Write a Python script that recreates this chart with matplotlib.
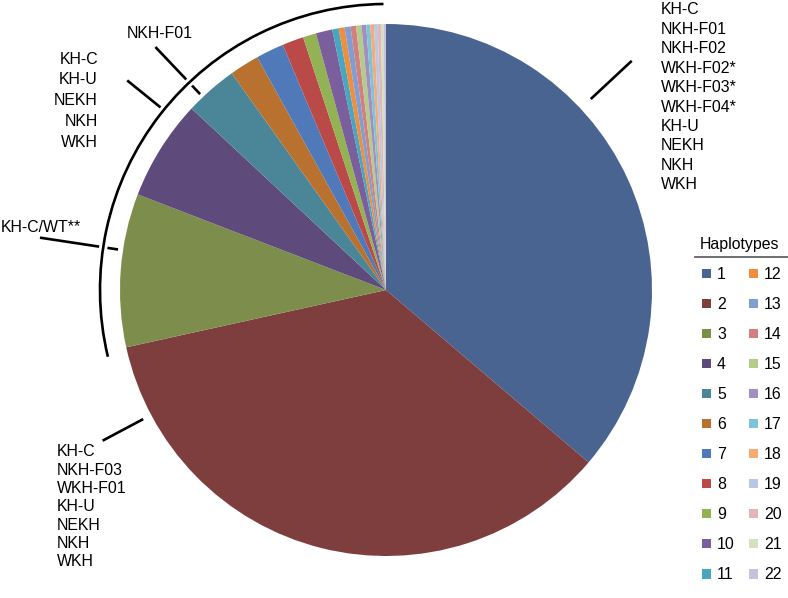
import numpy as np
import matplotlib
matplotlib.use("Agg")
import matplotlib.pyplot as plt
import matplotlib.patheffects as pe
from matplotlib.patches import Arc

plt.rcParams['font.family'] = ['Liberation Sans', 'DejaVu Sans']

# haplotype shares (percent of samples)
haplotypes = [str(i) for i in range(1, 23)]
shares = [36.2, 35.3, 9.3, 6.1, 3.2, 1.8, 1.7, 1.3, 0.8, 1.0,
          0.39, 0.36, 0.36, 0.33, 0.33, 0.28, 0.25, 0.22, 0.22, 0.19, 0.17, 0.14]
colors = ['#4a6491', '#7e3e3e', '#7d8d4b', '#5e4b7c', '#4b8598', '#b8712f',
          '#4f79b8', '#b94a48', '#93b254', '#7a5f9c', '#48a6bf', '#f08e3f',
          '#7f9fd3', '#d27f7d', '#b4cc8a', '#a08fc0', '#7ec4d8', '#f8aa72',
          '#b7c7e4', '#e3b5b4', '#d4e0c2', '#c9c0dc']

# population groups sharing each labelled haplotype
grp_h1 = ['KH-C', 'NKH-F01', 'NKH-F02', 'WKH-F02*', 'WKH-F03*',
          'WKH-F04*', 'KH-U', 'NEKH', 'NKH', 'WKH']
grp_h2 = ['KH-C', 'NKH-F03', 'WKH-F01', 'KH-U', 'NEKH', 'NKH', 'WKH']
grp_rare = ['KH-C', 'KH-U', 'NEKH', 'NKH', 'WKH']

W, H = 788, 598
fig = plt.figure(figsize=(W / 100, H / 100), dpi=100)
ax = fig.add_axes([0, 0, 1, 1])

cx, cy, r = 386, H - 290, 266


def py(y):
    return H - y


wedges, _ = ax.pie(shares, colors=colors, startangle=90, counterclock=False,
                   center=(cx, cy), radius=r, wedgeprops=dict(linewidth=0),
                   frame=True)
ax.set_xlim(0, W)
ax.set_ylim(0, H)
ax.set_aspect('equal')
ax.axis('off')


def tick(angle, r0, r1):
    # angle clockwise from 12 o'clock
    a = np.deg2rad(90 - angle)
    ax.plot([cx + r0 * np.cos(a), cx + r1 * np.cos(a)],
            [cy + r0 * np.sin(a), cy + r1 * np.sin(a)],
            color='black', lw=1.9, solid_capstyle='butt', zorder=3)


tick(47, 280, 336)
tick(242, 275, 321)
tick(278.6, 271, 350)
tick(316.5, 270, 335)
tick(309, 287, 333)

arc = Arc((cx, cy), 2 * 286, 2 * 286, theta1=90.5, theta2=193.5,
          color='black', lw=1.9, zorder=4)
arc.set_path_effects([pe.Stroke(linewidth=6, foreground='white'), pe.Normal()])
ax.add_patch(arc)

fs = 11.4
for i, s in enumerate(grp_h1):
    ax.text(661, py(10 + i * 19.4), s, fontsize=fs, ha='left', va='center')
for i, s in enumerate(grp_h2):
    ax.text(57, py(452 + i * 18.3), s, fontsize=fs, ha='left', va='center')
for i, s in enumerate(grp_rare):
    ax.text(98, py(59 + i * 20.8), s, fontsize=fs, ha='right', va='center')
ax.text(160, py(33), 'NKH-F01', fontsize=fs, ha='center', va='center')
ax.text(1, py(227), 'KH-C/WT**', fontsize=fs, ha='left', va='center')

# legend
ax.text(740, py(245), 'Haplotypes', fontsize=fs, ha='center', va='center')
ax.plot([695, 788], [py(257), py(257)], color='#555555', lw=1.2)
leg = ax.legend(wedges, haplotypes, ncol=2, frameon=False, fontsize=fs,
                loc='upper left', bbox_to_anchor=(694 / W, 1 - 259 / H),
                bbox_transform=fig.transFigure,
                handlelength=0.55, handleheight=0.55, handletextpad=0.4,
                labelspacing=0.95, columnspacing=0.9, borderpad=0)

fig.savefig('out.png', dpi=100)
